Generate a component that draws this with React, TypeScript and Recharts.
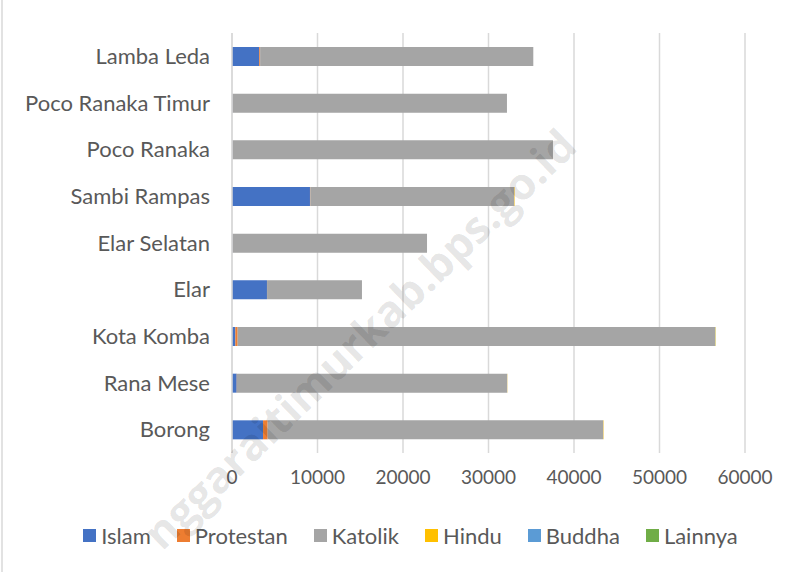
import { BarChart, Bar, XAxis, YAxis, CartesianGrid, Legend } from "recharts";

// Kecamatan order as in the source sheet (bottom to top in the chart)
const kecamatan = [
  "Borong",
  "Rana Mese",
  "Kota Komba",
  "Elar",
  "Elar Selatan",
  "Sambi Rampas",
  "Poco Ranaka",
  "Poco Ranaka Timur",
  "Lamba Leda",
];

const islam = [3630, 550, 390, 4090, 40, 9120, 40, 40, 3190];
const protestan = [540, 20, 270, 10, 10, 40, 10, 10, 100];
const katolik = [39250, 31620, 55850, 11100, 22760, 23850, 37490, 32110, 31950];
const hindu = [40, 20, 40, 0, 0, 50, 0, 0, 0];
const buddha = [0, 0, 10, 0, 0, 0, 0, 0, 0];
const lainnya = [0, 0, 10, 0, 0, 0, 0, 0, 0];

const xTicks = [0, 10000, 20000, 30000, 40000, 50000, 60000];

const series = [
  { key: "Islam", values: islam, color: "#4472C4" },
  { key: "Protestan", values: protestan, color: "#ED7D31" },
  { key: "Katolik", values: katolik, color: "#A5A5A5" },
  { key: "Hindu", values: hindu, color: "#FFC000" },
  { key: "Buddha", values: buddha, color: "#5B9BD5" },
  { key: "Lainnya", values: lainnya, color: "#70AD47" },
];

const rows = kecamatan.map((name, i) => {
  const row: Record<string, any> = { name };
  series.forEach((s) => (row[s.key] = s.values[i]));
  return row;
});

const FONT = "Lato, 'Open Sans', sans-serif";
const TEXT = "#595959";

function LegendContent() {
  return (
    <div style={{ display: "flex", justifyContent: "center", gap: 26, fontFamily: FONT, fontSize: 22, color: TEXT }}>
      {series.map((s) => (
        <span key={s.key} style={{ display: "flex", alignItems: "center" }}>
          <span style={{ width: 13, height: 13, background: s.color, display: "inline-block", marginRight: 5 }} />
          {s.key}
        </span>
      ))}
    </div>
  );
}

export default function App() {
  return (
    <div style={{ position: "absolute", left: 0, top: 0, width: 797, height: 572, background: "#fff", overflow: "hidden" }}>
      <div style={{ position: "absolute", left: 0, top: 0 }}>
        <BarChart
          width={797}
          height={572}
          data={rows}
          layout="vertical"
          margin={{ top: 33, right: 52, left: 10, bottom: 0 }}
          barSize={19}
        >
          <CartesianGrid horizontal={false} stroke="#D9D9D9" strokeWidth={1.5} />
          <XAxis
            type="number"
            domain={[0, 60000]}
            ticks={xTicks}
            height={119}
            axisLine={false}
            tickLine={false}
            tickMargin={12}
            tick={{ fill: TEXT, fontSize: 19, fontFamily: FONT }}
          />
          <YAxis
            type="category"
            dataKey="name"
            reversed
            width={222}
            axisLine={{ stroke: "#D9D9D9", strokeWidth: 1.5 }}
            tickLine={false}
            tickMargin={16}
            tick={{ fill: TEXT, fontSize: 22, fontFamily: FONT }}
          />
          {series.map((s) => (
            <Bar key={s.key} dataKey={s.key} stackId="a" fill={s.color} isAnimationActive={false} />
          ))}
          <Legend
            layout="horizontal"
            verticalAlign="middle"
            align="center"
            content={<LegendContent />}
            wrapperStyle={{ top: 522, left: 12, width: 797 }}
          />
        </BarChart>
      </div>
      {/* chart frame edge + site watermark drawn over the plot */}
      <svg width={797} height={572} style={{ position: "absolute", left: 0, top: 0, pointerEvents: "none" }}>
        <line x1={2} y1={0} x2={2} y2={572} stroke="#D9D9D9" strokeWidth={1.5} />
        <text
          x={162}
          y={552}
          transform="rotate(-44 162 552)"
          fontFamily="'Open Sans', sans-serif"
          fontWeight={700}
          fontSize={44}
          fill="rgba(0,0,0,0.11)"
        >
          nggaraitimurkab.bps.go.id
        </text>
      </svg>
    </div>
  );
}
